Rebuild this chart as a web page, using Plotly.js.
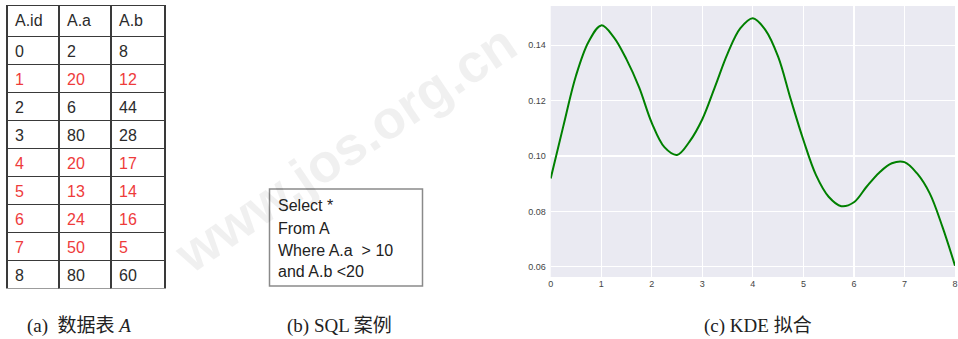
<!DOCTYPE html>
<html>
<head>
<meta charset="utf-8">
<script src="https://cdn.plot.ly/plotly-3.0.1.min.js"></script>
<style>html,body{margin:0;padding:0;background:#fff;}#chart{width:958px;height:339px;}</style>
</head>
<body>
<div id="chart"></div>
<script>
// ---- data ----
var tableHeader = ["A.id", "A.a", "A.b"];
var ids  = [0, 1, 2, 3, 4, 5, 6, 7, 8];
var colA = [2, 20, 6, 80, 20, 13, 24, 50, 80];
var colB = [8, 12, 44, 28, 17, 14, 16, 5, 60];
var sqlLines = ["Select *", "From A", "Where A.a\u00a0\u00a0> 10", "and A.b <20"];
var kdeX = [0, 0.25, 0.5, 0.75, 1, 1.25, 1.5, 1.75, 2, 2.25, 2.5, 2.75, 3, 3.25, 3.5, 3.75, 4,
            4.25, 4.5, 4.75, 5, 5.25, 5.5, 5.75, 6, 6.25, 6.5, 6.75, 7, 7.25, 7.5, 7.75, 8];
var kdeY = [0.0919, 0.1108, 0.1290, 0.1413, 0.1472, 0.1429, 0.1349, 0.1248, 0.1120, 0.1032, 0.1004,
            0.1053, 0.1133, 0.1250, 0.1370, 0.1461, 0.1498, 0.1455, 0.1359, 0.1205, 0.1058, 0.0931,
            0.0853, 0.0819, 0.0833, 0.0889, 0.0940, 0.0974, 0.0978, 0.0937, 0.0865, 0.0745, 0.0604];
var xTicks = [0, 1, 2, 3, 4, 5, 6, 7, 8];
var yTicks = [0.06, 0.08, 0.10, 0.12, 0.14];
var captions = ["(a)\u00a0\u00a0数据表 <i>A</i>", "(b) SQL 案例", "(c) KDE 拟合"];
var watermark = "www.jos.org.cn";

// ---- helpers ----
var W = 958, H = 339;
function px(x) { return x / W; }
function py(y) { return 1 - y / H; }

var red = "#ee3b3b", dark = "#2b2b2b";
var rowColors = ids.map(function (d, i) { return (colA[i] > 10 && colB[i] < 20) ? red : dark; });

var tableTrace = {
  type: "table",
  domain: { x: [px(7), px(165)], y: [py(289), py(5.5)] },
  columnwidth: [52, 52, 54],
  header: {
    values: tableHeader,
    align: "left",
    height: 31,
    line: { color: "#3a3a3a", width: 1.5 },
    fill: { color: "#ffffff" },
    font: { family: "Liberation Sans, Arial, sans-serif", size: 16, color: dark }
  },
  cells: {
    values: [ids, colA, colB],
    align: "left",
    height: 28,
    line: { color: "#3a3a3a", width: 1.5 },
    fill: { color: "#ffffff" },
    font: { family: "Liberation Sans, Arial, sans-serif", size: 16, color: [rowColors, rowColors, rowColors] }
  }
};

var kdeTrace = {
  type: "scatter",
  mode: "lines",
  x: kdeX,
  y: kdeY,
  line: { color: "#008000", width: 2, shape: "spline", smoothing: 1 },
  hoverinfo: "skip",
  showlegend: false
};

var annotations = [{
  xref: "paper", yref: "paper", x: px(345), y: py(148),
  xanchor: "center", yanchor: "middle", showarrow: false, text: watermark,
  textangle: -34,
  font: { family: "Liberation Sans, Arial, sans-serif", size: 54, color: "rgba(0,0,0,0.06)", weight: "bold" }
}];
var sqlY = [205, 228, 250.5, 271];
sqlLines.forEach(function (t, i) {
  annotations.push({
    xref: "paper", yref: "paper", x: px(276), y: py(sqlY[i]),
    xanchor: "left", yanchor: "middle", showarrow: false, text: t,
    font: { family: "Liberation Sans, Arial, sans-serif", size: 16, color: "#222" }
  });
});
var capX = [25, 285, 702];
captions.forEach(function (t, i) {
  annotations.push({
    xref: "paper", yref: "paper", x: px(capX[i]), y: py(326),
    xanchor: "left", yanchor: "middle", showarrow: false, text: t,
    font: { family: "Liberation Serif, 'Noto Sans CJK SC', serif", size: 19, color: "#222" }
  });
});

var layout = {
  width: W, height: H,
  margin: { l: 0, r: 0, t: 0, b: 0 },
  paper_bgcolor: "#ffffff",
  plot_bgcolor: "#eaeaf2",
  showlegend: false,
  xaxis: {
    domain: [px(550.7), px(955)],
    range: [0, 8],
    tickvals: xTicks,
    ticktext: xTicks.map(String),
    showgrid: true, gridcolor: "#ffffff", gridwidth: 1.2,
    zeroline: false, showline: false, ticks: "",
    tickfont: { family: "Liberation Sans, Arial, sans-serif", size: 9, color: "#444" },
    fixedrange: true
  },
  yaxis: {
    domain: [py(277), py(6)],
    range: [0.0563, 0.1542],
    tickvals: yTicks,
    ticktext: yTicks.map(function (v) { return v.toFixed(2); }),
    showgrid: true, gridcolor: "#ffffff", gridwidth: 1.2,
    zeroline: false, showline: false, ticks: "",
    ticklabelstandoff: 4,
    tickfont: { family: "Liberation Sans, Arial, sans-serif", size: 9, color: "#444" },
    fixedrange: true
  },
  shapes: [{
    type: "rect", xref: "paper", yref: "paper",
    x0: px(269.5), x1: px(422.5), y0: py(286), y1: py(189),
    line: { color: "#8a8a8a", width: 1.5 }, fillcolor: "rgba(0,0,0,0)"
  }],
  annotations: annotations
};

Plotly.newPlot("chart", [tableTrace, kdeTrace], layout, { displayModeBar: false, staticPlot: true });
</script>
</body>
</html>
